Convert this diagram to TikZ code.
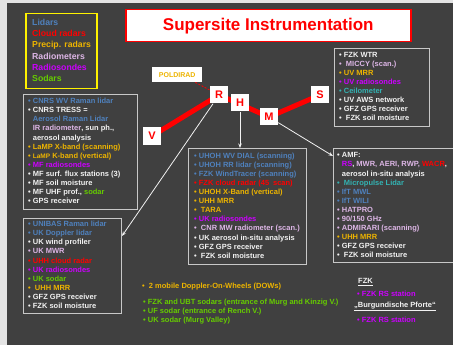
\documentclass[tikz,border=0pt]{standalone}
\usepackage{fontspec}
\setmainfont{Liberation Sans}
\usetikzlibrary{arrows.meta}
\definecolor{bg}{HTML}{404040}
\definecolor{edge}{HTML}{E4E4E4}
\definecolor{lid}{HTML}{4F81BD}
\definecolor{crad}{HTML}{FF0000}
\definecolor{prad}{HTML}{EDB400}
\definecolor{radm}{HTML}{DDB6E6}
\definecolor{rsd}{HTML}{CC00FF}
\definecolor{sod}{HTML}{66CC00}
\definecolor{ceil}{HTML}{33B3B3}
\definecolor{wt}{HTML}{F2F2F2}
\definecolor{boxln}{HTML}{C8C8C8}
\newcommand\ctext[2]{\textcolor{#1}{#2}}
\begin{document}
\begin{tikzpicture}[x=1pt,y=-1pt,
 box/.style={draw=boxln, line width=0.8pt, anchor=north west, inner sep=0pt},
 letter/.style={fill=white, text=red, font=\fontsize{11}{13}\selectfont\bfseries, minimum width=18pt, minimum height=17pt, inner sep=0pt},
 lines/.style={font=\fontsize{7.5}{9.1}\selectfont\bfseries, align=left, inner sep=0pt, anchor=north west, text=wt},
 one/.style={font=\fontsize{7.5}{9.1}\selectfont\bfseries, inner sep=0pt, anchor=base west, text=wt},
 arr/.style={draw=wt, line width=0.8pt, -{Stealth[length=4.5pt,width=3.5pt]}}
]
\useasboundingbox (0,0) rectangle (453,345);
\fill[edge] (0,0) rectangle (453,345);
\fill[bg] (7,3) rectangle (453,345);

% legend
\node[draw=yellow, line width=1.5pt, anchor=north west, minimum width=71pt, minimum height=75pt, inner sep=0pt] (legend) at (25,13) {};
\node[font=\fontsize{8.7}{11.3}\selectfont\bfseries, align=left, inner sep=0pt, anchor=north west] (legtxt) at (32,18.7)
 {\ctext{lid}{Lidars}\\ \ctext{crad}{Cloud radars}\\ \ctext{prad}{Precip. radars}\\ \ctext{radm}{Radiometers}\\ \ctext{rsd}{Radiosondes}\\ \ctext{sod}{Sodars}};

% title
\node[draw=red, fill=white, line width=1.5pt, anchor=north west, minimum width=285pt, minimum height=32pt, inner sep=0pt,
 text=red, font=\fontsize{17}{20}\selectfont\bfseries] (title) at (125,9) {Supersite Instrumentation};

% site line
\coordinate (cV) at (152,136);
\coordinate (cR) at (219,95);
\coordinate (cH) at (240,103);
\coordinate (cM) at (269,117);
\coordinate (cS) at (320,95);
\draw[red, line width=5pt] (cV) -- (cR) -- (cM) -- (cS);

\node[fill=white, text=prad, font=\fontsize{7}{8}\selectfont\bfseries, minimum width=50pt, minimum height=15pt, inner sep=0pt, anchor=north west] (pol) at (152,67) {POLDIRAD};

\node[letter] (V) at (cV) {V};
\node[letter] (R) at (cR) {R};
\node[letter] (H) at (cH) {H};
\node[letter] (M) at (cM) {M};
\node[letter] (S) at (cS) {S};
\draw[red, dashed, line width=0.8pt, dash pattern=on 2pt off 1.5pt] ([xshift=-7pt]pol.south east) -- (R);

% top right box
\node[box, minimum width=95pt, minimum height=78pt] (tr) at (334,48) {};
\node[lines, font=\fontsize{7.5}{9}\selectfont\bfseries] (trtxt) at (339,52)
 {• FZK WTR\\
  \ctext{radm}{•\ \ MICCY (scan.)}\\
  \ctext{prad}{• UV MRR}\\
  \ctext{rsd}{• UV radiosondes}\\
  \ctext{ceil}{• Ceilometer}\\
  • UV AWS network\\
  • GFZ GPS receiver\\
  •\ \ FZK soil moisture};

% top left box
\node[box, minimum width=114pt, minimum height=115pt] (tl) at (23,94) {};
\node[lines] (tltxt) at (28,98)
 {\ctext{lid}{• CNRS WV Raman lidar}\\
  • CNRS TRESS =\\
  \hphantom{•} \ctext{lid}{Aerosol Raman Lidar}\\
  \hphantom{•} \ctext{radm}{IR radiometer}, sun ph.,\\
  \hphantom{•} aerosol analysis\\
  \ctext{prad}{• LaMP X-band (scanning)}\\
  \ctext{prad}{• {\fontsize{6.5}{9.1}\selectfont LaMP} K-band (vertical)}\\
  \ctext{rsd}{• MF radiosondes}\\
  • MF surf. flux stations (3)\\
  • MF soil moisture\\
  • MF UHF prof., \ctext{sod}{sodar}\\
  • GPS receiver};

% bottom left box
\node[box, minimum width=98pt, minimum height=95pt] (bl) at (23,218) {};
\node[lines] (bltxt) at (28,221)
 {\ctext{lid}{• UNIBAS Raman lidar}\\
  \ctext{lid}{• UK Doppler lidar}\\
  • UK wind profiler\\
  \ctext{radm}{• UK MWR}\\
  \ctext{crad}{• UHH cloud radar}\\
  \ctext{rsd}{• UK radiosondes}\\
  \ctext{sod}{• UK sodar}\\
  \ctext{prad}{•\ \ UHH MRR}\\
  • GFZ GPS receiver\\
  • FZK soil moisture};

% middle box
\node[box, minimum width=118pt, minimum height=116pt] (mid) at (188,148) {};
\node[lines] (midtxt) at (194,152.5)
 {\ctext{lid}{• UHOH WV DIAL (scanning)}\\
  \ctext{lid}{• UHOH RR lidar (scanning)}\\
  \ctext{lid}{• FZK WindTracer (scanning)}\\
  \ctext{crad}{• FZK cloud radar (45\enspace scan)}\\
  \ctext{prad}{• UHOH X-Band (vertical)}\\
  \ctext{prad}{• UHH MRR}\\
  \ctext{prad}{•\ \ TARA}\\
  \ctext{rsd}{• UK radiosondes}\\
  \ctext{radm}{•\ \ CNR MW radiometer (scan.)}\\
  • UK aerosol in-situ analysis\\
  • GFZ GPS receiver\\
  •\ \ FZK soil moisture};

% AMF box (runs past the right edge)
\node[box, minimum width=126pt, minimum height=114pt] (amf) at (333,148) {};
\node[lines] (amftxt) at (337,152.5)
 {• AMF:\\
  \hphantom{•} \ctext{rsd}{RS}, \ctext{radm}{MWR, AERI, RWP,} \ctext{crad}{WACR},\\
  \hphantom{•} aerosol in-situ analysis\\
  \ctext{ceil}{•\ \ Micropulse Lidar}\\
  \ctext{lid}{• IfT MWL}\\
  \ctext{lid}{• IfT WILI}\\
  \ctext{radm}{• HATPRO}\\
  \ctext{radm}{• 90/150 GHz}\\
  \ctext{radm}{• ADMIRARI (scanning)}\\
  \ctext{prad}{• UHH MRR}\\
  • GFZ GPS receiver\\
  •\ \ FZK soil moisture};

% arrows
\coordinate (blin) at (122,236);
\coordinate (amfin) at (333,156);
\draw[arr] (H.south) -- (H.south |- mid.north);
\draw[arr] (R) -- (blin);
\draw[arr] (M) -- (amfin);

% bottom texts
\node[one, text=prad] (dow) at (142,288.5) {•\ \ 2 mobile Doppler-On-Wheels (DOWs)};
\node[one, text=sod] (sod1) at (143,304) {• FZK and UBT sodars (entrance of Murg and Kinzig V.)};
\node[one, text=sod] (sod2) at (143,313.3) {• UF sodar (entrance of Rench V.)};
\node[one, text=sod] (sod3) at (143,322.6) {• UK sodar (Murg Valley)};

\node[one] (fzk) at (358,283.5) {\underline{FZK}};
\node[one, text=rsd] (rs1) at (357,296) {• FZK RS station};
\node[one] (burg) at (354,307) {\underline{„Burgundische Pforte“}};
\node[one, text=rsd] (rs2) at (357,322) {• FZK RS station};
\end{tikzpicture}
\end{document}
